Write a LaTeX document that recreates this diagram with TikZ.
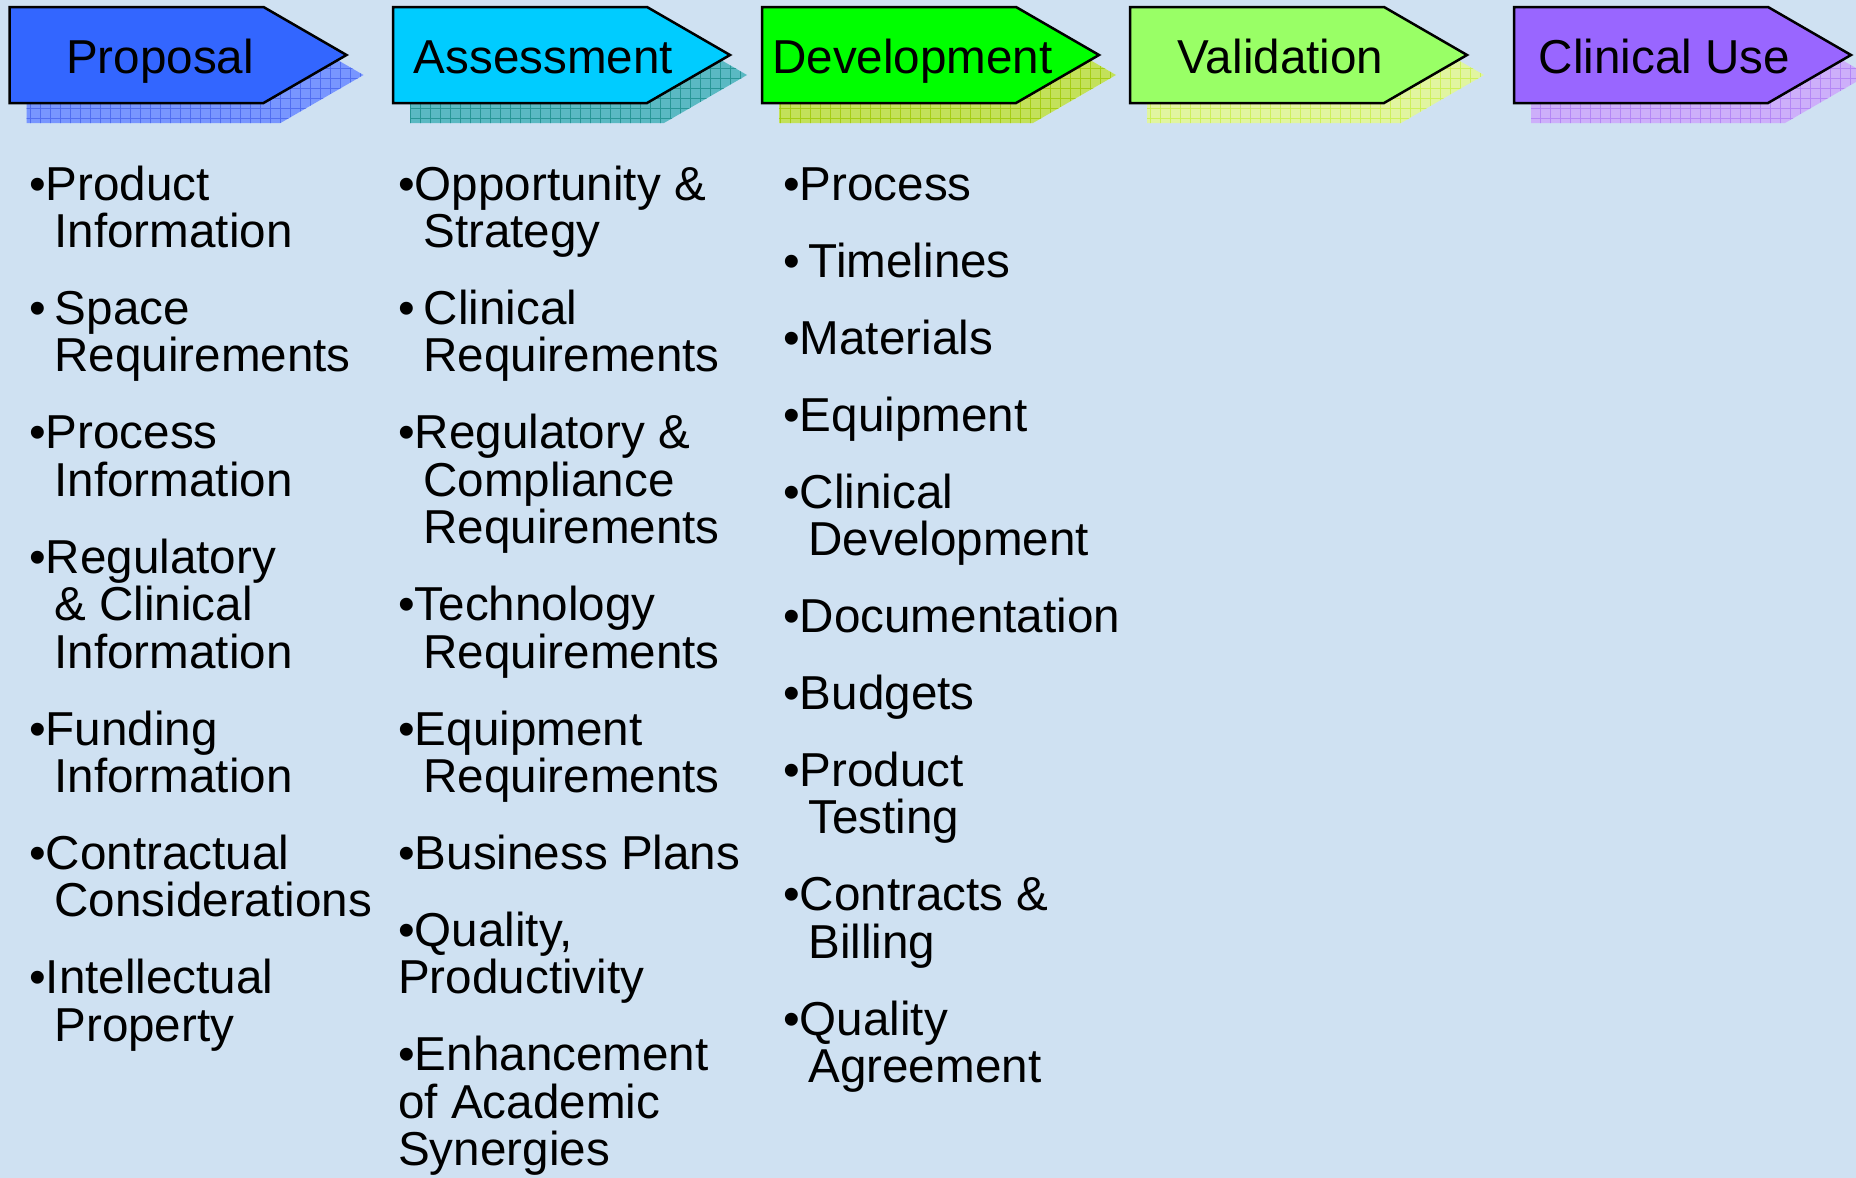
\documentclass[tikz,border=0pt]{standalone}
\usepackage{fontspec}
\setmainfont{Liberation Sans}
\usetikzlibrary{patterns.meta}

\definecolor{bgblue}{RGB}{207,225,242}
\definecolor{propfill}{RGB}{51,102,255}
\definecolor{propshade}{RGB}{120,150,255}
\definecolor{propgrid}{RGB}{80,110,240}
\definecolor{assfill}{RGB}{0,204,255}
\definecolor{assshade}{RGB}{90,185,195}
\definecolor{assgrid}{RGB}{40,150,150}
\definecolor{devfill}{RGB}{0,255,0}
\definecolor{devshade}{RGB}{195,225,90}
\definecolor{devgrid}{RGB}{165,205,20}
\definecolor{valfill}{RGB}{153,255,102}
\definecolor{valshade}{RGB}{225,245,160}
\definecolor{valgrid}{RGB}{205,240,90}
\definecolor{clinfill}{RGB}{153,102,255}
\definecolor{clinshade}{RGB}{205,175,250}
\definecolor{clingrid}{RGB}{180,135,245}

\newcommand\bodyfont{\fontsize{47.6}{47.4}\selectfont}
\newcommand\contind{\hspace*{0.53em}}
\newcommand\spbul{•\hspace{0.19em}}
\newcommand\itemgap{\\[29.6pt]}
\lineskiplimit=-100pt

\tikzset{
  stagebox/.style={draw=black, line width=2.5pt, line join=miter},
  stagetext/.style={anchor=base, inner sep=0pt, font=\bodyfont},
  itemlist/.style={anchor=base west, inner sep=0pt, font=\bodyfont}
}

\begin{document}
\begin{tikzpicture}[x=1pt,y=-1pt]
  \fill[bgblue] (0,0) rectangle (1856,1178);
  \useasboundingbox (0,0) rectangle (1856,1178);

  % stage arrows with hatched shadows
  \foreach \x/\c/\s/\g/\n/\t in {9.5/propfill/propshade/propgrid/proposal/Proposal,
      393/assfill/assshade/assgrid/assessment/Assessment,
      762/devfill/devshade/devgrid/development/Development,
      1130/valfill/valshade/valgrid/validation/Validation,
      1514/clinfill/clinshade/clingrid/clinicaluse/Clinical Use}{
    \fill[\s] (\x+17,27) -- ++(254,0) -- ++(83,48) -- ++(-83,48) -- ++(-254,0) -- cycle;
    \path[pattern={Hatch[angle=0,distance=10pt,line width=0.8pt]}, pattern color=\g]
      (\x+17,27) -- ++(254,0) -- ++(83,48) -- ++(-83,48) -- ++(-254,0) -- cycle;
    \draw[stagebox, fill=\c] (\x,7) -- ++(254,0) -- ++(83,48) -- ++(-83,48) -- ++(-254,0) -- cycle;
    \node[stagetext] (\n) at (\x+150.5,73) {\t};
  }

  % item lists
  \node[itemlist] (proposalList) at (29,200) {\parbox[t]{400pt}{%
    •Product\\ \contind Information\itemgap
    \spbul Space\\ \contind Requirements\itemgap
    •Process\\ \contind Information\itemgap
    •Regulatory\\ \contind \& Clinical\\ \contind Information\itemgap
    •Funding\\ \contind Information\itemgap
    •Contractual\\ \contind Considerations\itemgap
    •Intellectual\\ \contind Property}};

  \node[itemlist] (assessmentList) at (398,200) {\parbox[t]{400pt}{%
    •Opportunity \&\\ \contind Strategy\itemgap
    \spbul Clinical\\ \contind Requirements\itemgap
    •Regulatory \&\\ \contind Compliance\\ \contind Requirements\itemgap
    •Technology\\ \contind Requirements\itemgap
    •Equipment\\ \contind Requirements\itemgap
    •Business Plans\itemgap
    •Quality,\\ Productivity\itemgap
    •Enhancement\\ of Academic\\ Synergies}};

  \node[itemlist] (developmentList) at (783,200) {\parbox[t]{400pt}{%
    •Process\itemgap
    \spbul Timelines\itemgap
    •Materials\itemgap
    •Equipment\itemgap
    •Clinical\\ \contind Development\itemgap
    •Documentation\itemgap
    •Budgets\itemgap
    •Product\\ \contind Testing\itemgap
    •Contracts \&\\ \contind Billing\itemgap
    •Quality\\ \contind Agreement}};
\end{tikzpicture}
\end{document}
